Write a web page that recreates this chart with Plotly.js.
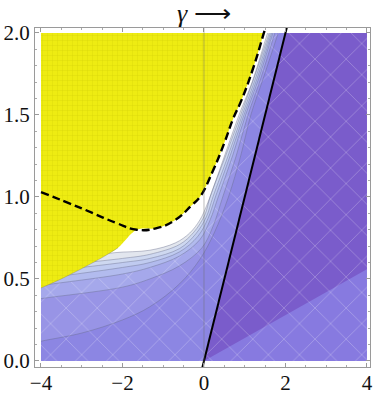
<!DOCTYPE html>
<html>
<head>
<meta charset="utf-8">
<script src="https://cdn.plot.ly/plotly-3.0.1.min.js"></script>
<style>
  html, body { margin: 0; padding: 0; background: #fff; }
  #chart { width: 374px; height: 395px; }
</style>
</head>
<body>
<div id="chart"></div>
<script>
// contour levels, from the white edge outwards
const wX  = [-4.5, -4, -3, -2.2, -1.33, -0.7, -0.35, -0.1, 0.07, 0.32, 0.86, 1.18, 1.56, 1.69];
const wY  = [0.58, 0.60, 0.63, 0.66, 0.675, 0.72, 0.78, 0.86, 0.95, 1.12, 1.5, 1.7, 2.0, 2.1];
const k1X = [-4.5, -4, -2, -1.33, -0.6, -0.25, 0.02, 0.15, 0.53, 0.9, 1.22, 1.6, 1.73];
const k1Y = [0.55, 0.57, 0.625, 0.65, 0.71, 0.785, 0.89, 1.0, 1.25, 1.5, 1.72, 2.0, 2.1];
const k2X = [-4.5, -4, -2, -1.33, -0.6, -0.2, 0.06, 0.22, 0.59, 0.94, 1.26, 1.63, 1.76];
const k2Y = [0.52, 0.54, 0.60, 0.625, 0.685, 0.775, 0.88, 1.0, 1.25, 1.5, 1.72, 2.0, 2.1];
const k3X = [-4.5, -4, -2, -1.33, -0.6, -0.15, 0.1, 0.28, 0.64, 0.98, 1.3, 1.66, 1.79];
const k3Y = [0.48, 0.50, 0.57, 0.60, 0.665, 0.76, 0.87, 1.0, 1.25, 1.5, 1.72, 2.0, 2.1];
const k4X = [-4.5, -4, -2, -1.33, -0.6, -0.1, 0.15, 0.35, 0.7, 1.02, 1.34, 1.69, 1.82];
const k4Y = [0.44, 0.46, 0.53, 0.57, 0.64, 0.74, 0.86, 1.0, 1.25, 1.5, 1.72, 2.0, 2.1];
const k5X = [-4.5, -4, -2, -1.33, -0.6, -0.05, 0.22, 0.46, 0.79, 1.08, 1.39, 1.74, 1.87];
const k5Y = [0.36, 0.38, 0.45, 0.50, 0.58, 0.69, 0.82, 1.0, 1.25, 1.5, 1.72, 2.0, 2.1];
const k6X = [-4.5, -4, -3, -2, -1.33, -0.6, -0.1, 0.25, 0.6, 0.9, 1.15, 1.45, 1.82, 1.94];
const k6Y = [0.09, 0.12, 0.17, 0.25, 0.33, 0.47, 0.62, 0.78, 1.0, 1.25, 1.5, 1.72, 2.0, 2.1];

// lower edge of the yellow region (left part), then it follows the dashed curve
const yelX = [-4.5, -4, -3.34, -2.5, -2.11];
const yelY = [0.40, 0.445, 0.52, 0.63, 0.69];
const dashX = [-4, -3, -2.14, -1.65, -1.16, -0.7, -0.3, -0.1, 0.22, 0.5, 0.72, 0.92, 1.2, 1.47, 1.59];
const dashY = [1.03, 0.93, 0.84, 0.80, 0.81, 0.86, 0.95, 1.0, 1.16, 1.33, 1.48, 1.59, 1.78, 2.0, 2.1];

// straight boundaries
const solidX = [-0.05, 2.1];
const solidY = [-0.05, 2.1];
const lowX = [0, 4.5];
const lowY = [0, 0.63];

const levels = [[k6X, k6Y], [k5X, k5Y], [k4X, k4Y], [k3X, k3Y], [k2X, k2Y], [k1X, k1Y], [wX, wY]];
const bandColors = ['#9894e6', '#a5a8eb', '#b2bbee', '#c0cbf0', '#ced8f0', '#e2e6ee', '#ffffff'];

const serif = 'Liberation Serif, Times New Roman, serif';

// faint white mesh seen over the bluish areas
const mesh = { shape: 'x', size: 22, solidity: 0.06, fgcolor: '#ffffff', fgopacity: 0.35 };

function leftOf(xs, ys, color, pattern) {
  // region up and left of a curve, closed far outside the frame
  const t = {
    type: 'scatter', mode: 'lines',
    x: xs.concat([-4.7]), y: ys.concat([2.4]),
    fill: 'toself', fillcolor: color,
    line: { shape: 'spline', width: 0, color: color },
    hoverinfo: 'skip'
  };
  if (pattern) t.fillpattern = Object.assign({ bgcolor: color }, pattern);
  return t;
}

function box(x0, x1, y0, y1, color, pattern) {
  const t = {
    type: 'scatter', mode: 'lines',
    x: [x0, x1, x1, x0], y: [y0, y0, y1, y1],
    fill: 'toself', fillcolor: color, line: { width: 0 }, hoverinfo: 'skip'
  };
  if (pattern) t.fillpattern = Object.assign({ bgcolor: color }, pattern);
  return t;
}

function poly(xs, ys, color, pattern) {
  const t = {
    type: 'scatter', mode: 'lines', x: xs, y: ys,
    fill: 'toself', fillcolor: color, line: { width: 0 }, hoverinfo: 'skip'
  };
  if (pattern) t.fillpattern = Object.assign({ bgcolor: color }, pattern);
  return t;
}

// lavender ground under everything
const traces = [box(-5, 5, -1, 3, '#8c86e3', mesh)];
levels.forEach((lv, i) => traces.push(leftOf(lv[0], lv[1], bandColors[i], i < 2 ? mesh : null)));

// thin contour lines (under the yellow)
levels.forEach(lv => traces.push({
  type: 'scatter', mode: 'lines', x: lv[0], y: lv[1],
  line: { shape: 'spline', width: 0.8, color: 'rgba(100,105,135,0.5)' }, hoverinfo: 'skip'
}));

// yellow region, with its fine darker grid
const cut = dashX.indexOf(-1.65);
traces.push(leftOf(yelX.concat(dashX.slice(cut)), yelY.concat(dashY.slice(cut)), '#eeec12',
  { shape: '+', size: 5, solidity: 0.12, fgcolor: '#b8b400', fgopacity: 0.45 }));
traces.push({
  type: 'scatter', mode: 'lines', x: yelX, y: yelY,
  line: { shape: 'spline', width: 0.8, color: 'rgba(120,120,90,0.45)' }, hoverinfo: 'skip'
});

// right of the solid line
traces.push(poly([solidX[0], solidX[1], 4.6, 4.6, lowX[1]], [solidY[0], solidY[1], 2.3, lowY[1], lowY[1]], '#7a5ccb', mesh));
traces.push(poly([lowX[0], lowX[1], 4.6, 0], [lowY[0], lowY[1], -0.5, -0.5], '#877ae0', mesh));

// white padding between data area and frame
traces.push(box(-5, -4, -1, 3, '#fff'));
traces.push(box(4, 5, -1, 3, '#fff'));
traces.push(box(-5, 5, 2, 3, '#fff'));
traces.push(box(-5, 5, -1, 0, '#fff'));

// black curves
traces.push({
  type: 'scatter', mode: 'lines', x: dashX, y: dashY,
  line: { shape: 'spline', smoothing: 1.3, width: 2.4, color: '#000', dash: '8px,4px' }, hoverinfo: 'skip'
});
traces.push({
  type: 'scatter', mode: 'lines', x: solidX, y: solidY,
  line: { width: 2, color: '#000' }, hoverinfo: 'skip'
});

const axisCommon = {
  showgrid: false, zeroline: false,
  showline: true, linecolor: '#9a9a9a', linewidth: 1, mirror: 'ticks',
  ticks: 'inside', ticklen: 4, tickcolor: '#9a9a9a',
  tickfont: { family: serif, size: 21, color: '#111' }
};

const layout = {
  width: 374, height: 395,
  margin: { l: 35, r: 4, t: 28, b: 28 },
  paper_bgcolor: '#fff', plot_bgcolor: '#fff',
  showlegend: false, hovermode: false,
  title: {
    text: '<i>γ</i> ⟶', font: { family: serif, size: 26, color: '#111' },
    xref: 'container', x: 0.545, xanchor: 'center',
    yref: 'container', y: 0.967, yanchor: 'middle'
  },
  xaxis: Object.assign({}, axisCommon, {
    range: [-4.147, 4.074], tick0: 0, dtick: 2, ticklabelstandoff: -3,
    minor: { dtick: 0.5, ticks: 'inside', ticklen: 2, tickcolor: '#aaa' }
  }),
  yaxis: Object.assign({}, axisCommon, {
    range: [-0.037, 2.03], tick0: 0, dtick: 0.5, tickformat: '.1f',
    minor: { dtick: 0.1, ticks: 'inside', ticklen: 2, tickcolor: '#aaa' }
  }),
  shapes: [{
    type: 'line', xref: 'x', yref: 'paper', x0: 0, x1: 0, y0: 0, y1: 1,
    line: { color: 'rgba(110,110,110,0.45)', width: 1 }, layer: 'above'
  }]
};

Plotly.newPlot('chart', traces, layout, { staticPlot: true, displayModeBar: false });
</script>
</body>
</html>
